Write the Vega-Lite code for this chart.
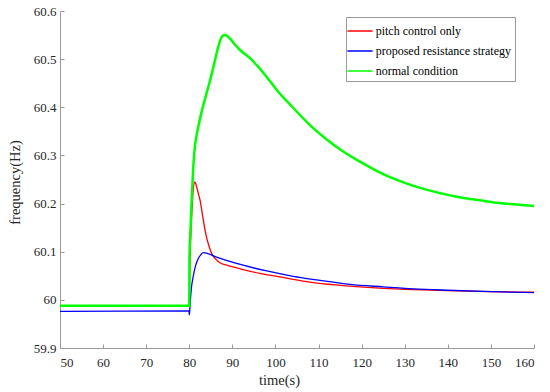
{
  "$schema": "https://vega.github.io/schema/vega-lite/v6.json",
  "autosize": "none",
  "padding": {"left": 60, "top": 11, "right": 16, "bottom": 44},
  "width": 474,
  "height": 337,
  "background": "white",
  "config": {
    "view": {"stroke": null},
    "font": "Liberation Serif",
    "axis": {"grid": false, "labelFont": "Liberation Serif", "titleFont": "Liberation Serif"},
    "legend": {"labelFont": "Liberation Serif"}
  },
  "datasets": {
    "curves": [
      {"t": 50, "f": 59.988, "s": "pitch control only"},
      {"t": 80.0, "f": 59.988, "s": "pitch control only"},
      {"t": 80.1, "f": 60.05, "s": "pitch control only"},
      {"t": 80.3, "f": 60.12, "s": "pitch control only"},
      {"t": 80.55, "f": 60.172, "s": "pitch control only"},
      {"t": 80.9, "f": 60.228, "s": "pitch control only"},
      {"t": 81.3, "f": 60.245, "s": "pitch control only"},
      {"t": 81.7, "f": 60.235, "s": "pitch control only"},
      {"t": 82.1, "f": 60.221, "s": "pitch control only"},
      {"t": 82.5, "f": 60.207, "s": "pitch control only"},
      {"t": 82.9, "f": 60.186, "s": "pitch control only"},
      {"t": 83.25, "f": 60.166, "s": "pitch control only"},
      {"t": 83.8, "f": 60.138, "s": "pitch control only"},
      {"t": 84.4, "f": 60.117, "s": "pitch control only"},
      {"t": 85.2, "f": 60.096, "s": "pitch control only"},
      {"t": 85.96, "f": 60.086, "s": "pitch control only"},
      {"t": 87.1, "f": 60.077, "s": "pitch control only"},
      {"t": 88.7, "f": 60.072, "s": "pitch control only"},
      {"t": 92, "f": 60.064, "s": "pitch control only"},
      {"t": 96.4, "f": 60.055, "s": "pitch control only"},
      {"t": 102, "f": 60.046, "s": "pitch control only"},
      {"t": 108, "f": 60.037, "s": "pitch control only"},
      {"t": 114, "f": 60.031, "s": "pitch control only"},
      {"t": 119.6, "f": 60.027, "s": "pitch control only"},
      {"t": 125, "f": 60.024, "s": "pitch control only"},
      {"t": 130, "f": 60.022, "s": "pitch control only"},
      {"t": 140, "f": 60.019, "s": "pitch control only"},
      {"t": 150, "f": 60.017, "s": "pitch control only"},
      {"t": 160, "f": 60.016, "s": "pitch control only"},

      {"t": 50, "f": 59.976, "s": "proposed resistance strategy"},
      {"t": 79.95, "f": 59.977, "s": "proposed resistance strategy"},
      {"t": 80.0, "f": 59.969, "s": "proposed resistance strategy"},
      {"t": 80.1, "f": 59.976, "s": "proposed resistance strategy"},
      {"t": 80.2, "f": 59.992, "s": "proposed resistance strategy"},
      {"t": 80.5, "f": 60.025, "s": "proposed resistance strategy"},
      {"t": 80.9, "f": 60.048, "s": "proposed resistance strategy"},
      {"t": 81.5, "f": 60.072, "s": "proposed resistance strategy"},
      {"t": 82.1, "f": 60.086, "s": "proposed resistance strategy"},
      {"t": 82.7, "f": 60.094, "s": "proposed resistance strategy"},
      {"t": 83.25, "f": 60.098, "s": "proposed resistance strategy"},
      {"t": 84, "f": 60.097, "s": "proposed resistance strategy"},
      {"t": 86, "f": 60.09, "s": "proposed resistance strategy"},
      {"t": 89, "f": 60.081, "s": "proposed resistance strategy"},
      {"t": 92.5, "f": 60.072, "s": "proposed resistance strategy"},
      {"t": 98, "f": 60.06, "s": "proposed resistance strategy"},
      {"t": 104.1, "f": 60.049, "s": "proposed resistance strategy"},
      {"t": 110, "f": 60.041, "s": "proposed resistance strategy"},
      {"t": 117.3, "f": 60.032, "s": "proposed resistance strategy"},
      {"t": 125, "f": 60.027, "s": "proposed resistance strategy"},
      {"t": 132, "f": 60.023, "s": "proposed resistance strategy"},
      {"t": 140, "f": 60.02, "s": "proposed resistance strategy"},
      {"t": 150, "f": 60.017, "s": "proposed resistance strategy"},
      {"t": 160, "f": 60.015, "s": "proposed resistance strategy"},

      {"t": 50, "f": 59.988, "s": "normal condition"},
      {"t": 80.0, "f": 59.988, "s": "normal condition"},
      {"t": 80.05, "f": 60.09, "s": "normal condition"},
      {"t": 80.3, "f": 60.15, "s": "normal condition"},
      {"t": 80.55, "f": 60.207, "s": "normal condition"},
      {"t": 80.93, "f": 60.276, "s": "normal condition"},
      {"t": 81.3, "f": 60.318, "s": "normal condition"},
      {"t": 81.7, "f": 60.342, "s": "normal condition"},
      {"t": 82.1, "f": 60.36, "s": "normal condition"},
      {"t": 82.9, "f": 60.392, "s": "normal condition"},
      {"t": 84.0, "f": 60.429, "s": "normal condition"},
      {"t": 84.8, "f": 60.455, "s": "normal condition"},
      {"t": 85.6, "f": 60.484, "s": "normal condition"},
      {"t": 86.7, "f": 60.525, "s": "normal condition"},
      {"t": 87.4, "f": 60.544, "s": "normal condition"},
      {"t": 88.1, "f": 60.55, "s": "normal condition"},
      {"t": 88.8, "f": 60.548, "s": "normal condition"},
      {"t": 89.6, "f": 60.541, "s": "normal condition"},
      {"t": 90.5, "f": 60.531, "s": "normal condition"},
      {"t": 91.8, "f": 60.519, "s": "normal condition"},
      {"t": 93, "f": 60.51, "s": "normal condition"},
      {"t": 94.1, "f": 60.502, "s": "normal condition"},
      {"t": 95.6, "f": 60.488, "s": "normal condition"},
      {"t": 97.96, "f": 60.463, "s": "normal condition"},
      {"t": 100.3, "f": 60.436, "s": "normal condition"},
      {"t": 104.1, "f": 60.399, "s": "normal condition"},
      {"t": 108, "f": 60.363, "s": "normal condition"},
      {"t": 111.9, "f": 60.333, "s": "normal condition"},
      {"t": 115.7, "f": 60.308, "s": "normal condition"},
      {"t": 119.6, "f": 60.287, "s": "normal condition"},
      {"t": 125, "f": 60.261, "s": "normal condition"},
      {"t": 130, "f": 60.243, "s": "normal condition"},
      {"t": 135, "f": 60.229, "s": "normal condition"},
      {"t": 140.5, "f": 60.217, "s": "normal condition"},
      {"t": 144, "f": 60.211, "s": "normal condition"},
      {"t": 148.2, "f": 60.206, "s": "normal condition"},
      {"t": 152, "f": 60.201, "s": "normal condition"},
      {"t": 156, "f": 60.198, "s": "normal condition"},
      {"t": 160, "f": 60.195, "s": "normal condition"}
    ]
  },
  "data": {"name": "curves"},
  "encoding": {
    "x": {
      "field": "t", "type": "quantitative",
      "scale": {"domain": [50, 160], "nice": false, "zero": false},
      "axis": {
        "title": "time(s)",
        "values": [50, 60, 70, 80, 90, 100, 110, 120, 130, 140, 150, 160],
        "format": "d",
        "domainColor": "#999999",
        "tickColor": "#999999",
        "tickSize": -4,
        "labelPadding": 12,
        "labelFontSize": 13,
        "labelColor": "#262626",
        "labelFont": "Liberation Serif",
        "titleFont": "Liberation Serif",
        "titleFontSize": 14.5,
        "titleFontWeight": "normal",
        "titleColor": "#262626",
        "titleX": 219,
        "titleY": 36,
        "titleAlign": "center",
        "titleBaseline": "alphabetic"
      }
    },
    "y": {
      "field": "f", "type": "quantitative",
      "scale": {"domain": [59.9, 60.6], "nice": false, "zero": false},
      "axis": {
        "title": "frequency(Hz)",
        "values": [59.9, 60, 60.1, 60.2, 60.3, 60.4, 60.5, 60.6],
        "format": "~g",
        "domainColor": "#999999",
        "tickColor": "#999999",
        "tickSize": -4,
        "labelPadding": 8,
        "labelFontSize": 13,
        "labelColor": "#262626",
        "labelFont": "Liberation Serif",
        "titleFont": "Liberation Serif",
        "titleFontSize": 14.5,
        "titleFontWeight": "normal",
        "titleColor": "#262626",
        "titleX": -45,
        "titleY": 171,
        "titleAngle": -90,
        "titleAlign": "center",
        "titleBaseline": "middle"
      }
    },
    "color": {
      "field": "s", "type": "nominal",
      "scale": {
        "domain": ["pitch control only", "proposed resistance strategy", "normal condition"],
        "range": ["#ff0000", "#0000ff", "#00ff00"]
      },
      "legend": {
        "title": null,
        "orient": "none",
        "legendX": 286,
        "legendY": 6,
        "direction": "vertical",
        "symbolType": "M-1.4,0H1.4",
        "symbolSize": 324,
        "symbolStrokeWidth": 1.5,
        "labelOffset": 5.7,
        "labelFontSize": 12,
        "labelFont": "Liberation Serif",
        "labelColor": "#000000",
        "labelLimit": 300,
        "rowPadding": 4,
        "padding": 4,
        "strokeColor": "#999999",
        "fillColor": "#ffffff"
      }
    }
  },
  "layer": [
    {"transform": [{"filter": "datum.s === 'pitch control only'"}], "mark": {"type": "line", "strokeWidth": 1.3, "interpolate": "monotone"}},
    {"transform": [{"filter": "datum.s === 'proposed resistance strategy'"}], "mark": {"type": "line", "strokeWidth": 1.3, "interpolate": "monotone"}},
    {"transform": [{"filter": "datum.s === 'normal condition'"}], "mark": {"type": "line", "strokeWidth": 2.5, "interpolate": "monotone"}}
  ]
}
